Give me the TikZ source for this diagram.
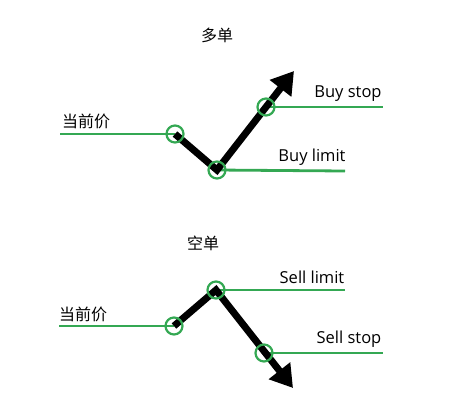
\documentclass[tikz,border=0pt]{standalone}
\usepackage{fontspec}
\setmainfont{Open Sans}
\newfontfamily\cjk{Noto Sans CJK SC}
\usetikzlibrary{arrows.meta}
\definecolor{lvl}{RGB}{52,168,83}
\tikzset{
  lvline/.style={draw=lvl, line width=2.8pt},
  ring/.style={circle, draw=lvl, line width=2.2pt, minimum size=17pt, inner sep=0pt},
  blk/.style={draw=black, line width=7pt, line join=miter, line cap=butt},
  lbl/.style={font=\fontsize{16.5}{19}\selectfont, inner sep=0pt},
  cn/.style={font=\cjk\fontsize{16}{19}\selectfont, inner sep=0pt},
}
\begin{document}
\begin{tikzpicture}[x=1pt,y=-1pt]
\useasboundingbox (0,0) rectangle (449,400);
% ---------- top: 多单 ----------
\node[cn] (t1) at (217,35) {多单};
\coordinate (a0) at (60,134);
\coordinate (a1) at (175,134);
\coordinate (a2) at (217,170);
\coordinate (a2e) at (345,171);
\coordinate (a3) at (266,107);
\coordinate (a3e) at (383,107);
\coordinate (atip) at (294,71);
\draw[lvline] (a0) -- (a1);
\draw[lvline] (a2) -- (a2e);
\draw[lvline] (a3) -- (a3e);
\draw[blk, -{Triangle[width=26pt,length=22pt]}] (a1) -- (a2) -- (atip);
\node[ring] (r1) at (a1) {};
\node[ring] (r2) at (a2) {};
\node[ring] (r3) at (a3) {};
\node[cn] (p1) at (86,121) {当前价};
\node[lbl] (bs) at (348,94) {Buy stop};
\node[lbl] (bl) at (312,157) {Buy limit};
% ---------- bottom: 空单 ----------
\node[cn] (t2) at (203,243) {空单};
\coordinate (b0) at (59,326);
\coordinate (b1) at (174,326);
\coordinate (b2) at (216,290);
\coordinate (b2e) at (345,290);
\coordinate (b3) at (264,353);
\coordinate (b3e) at (383,353);
\coordinate (btip) at (293,388);
\draw[lvline] (b0) -- (b1);
\draw[lvline] (b2) -- (b2e);
\draw[lvline] (b3) -- (b3e);
\draw[blk, -{Triangle[width=26pt,length=22pt]}] (b1) -- (b2) -- (btip);
\node[ring] (s1) at (b1) {};
\node[ring] (s2) at (b2) {};
\node[ring] (s3) at (b3) {};
\node[cn] (p2) at (83,314) {当前价};
\node[lbl] (sl) at (312,277) {Sell limit};
\node[lbl] (ss) at (349,339) {Sell stop};
\end{tikzpicture}
\end{document}
